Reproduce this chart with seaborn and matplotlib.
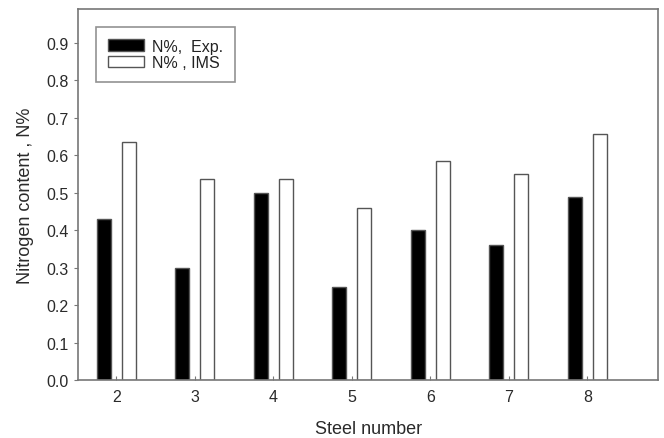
import matplotlib
matplotlib.use("Agg")
import matplotlib.pyplot as plt
import seaborn as sns
import pandas as pd

steel = ["2", "3", "4", "5", "6", "7", "8"]
n_exp = [0.43, 0.30, 0.50, 0.25, 0.40, 0.36, 0.49]
n_ims = [0.637, 0.536, 0.536, 0.459, 0.586, 0.550, 0.657]
series = ["N%,  Exp.", "N% , IMS"]
yticks = [0.0, 0.1, 0.2, 0.3, 0.4, 0.5, 0.6, 0.7, 0.8, 0.9]

df = pd.DataFrame({
    "steel": steel * 2,
    "value": n_exp + n_ims,
    "series": [series[0]] * len(steel) + [series[1]] * len(steel),
})

sns.set_style("white")
plt.rcParams["font.family"] = ["Liberation Sans", "DejaVu Sans"]

fig = plt.figure(figsize=(6.64, 4.39), dpi=100)
ax = fig.add_axes([0.118, 0.131, 0.873, 0.846])

edge = "#555555"
sns.barplot(data=df, x="steel", y="value", hue="series", order=steel,
            hue_order=series, palette=["black", "white"], width=0.64,
            gap=0.44, edgecolor=edge, linewidth=1.0, ax=ax, legend=True)

ax.set_xlim(-0.484, 6.9)
ax.set_ylim(0, 0.99)
ax.set_yticks(yticks)
ax.set_yticklabels([f"{v:.1f}" for v in yticks])

spine_c = "#777777"
for s in ax.spines.values():
    s.set_visible(True)
    s.set_color(spine_c)
    s.set_linewidth(1.2)

ax.tick_params(axis="y", direction="out", length=3, width=0.8, color=spine_c,
               labelsize=11.5, labelcolor="#2a2a2a", pad=4, left=True)
ax.tick_params(axis="x", direction="in", length=3, width=0.8, color=spine_c,
               labelsize=11.5, labelcolor="#2a2a2a", pad=6, bottom=True)

ax.set_xlabel("Steel number", fontsize=13, color="#2a2a2a", labelpad=12)
ax.set_ylabel("Nitrogen content , N%", fontsize=13, color="#2a2a2a", labelpad=9)

handles, labels = ax.get_legend_handles_labels()
leg = ax.legend(handles, labels, loc="upper left",
                bbox_to_anchor=(0.03, 0.953), fontsize=11.5, frameon=True,
                fancybox=False, edgecolor=spine_c, handlelength=2.25,
                handleheight=0.7, labelspacing=0.12, borderpad=0.75,
                handletextpad=0.5, borderaxespad=0)
leg.get_frame().set_linewidth(1.2)
for t in leg.get_texts():
    t.set_color("#222222")

fig.savefig("out.png", dpi=100)
